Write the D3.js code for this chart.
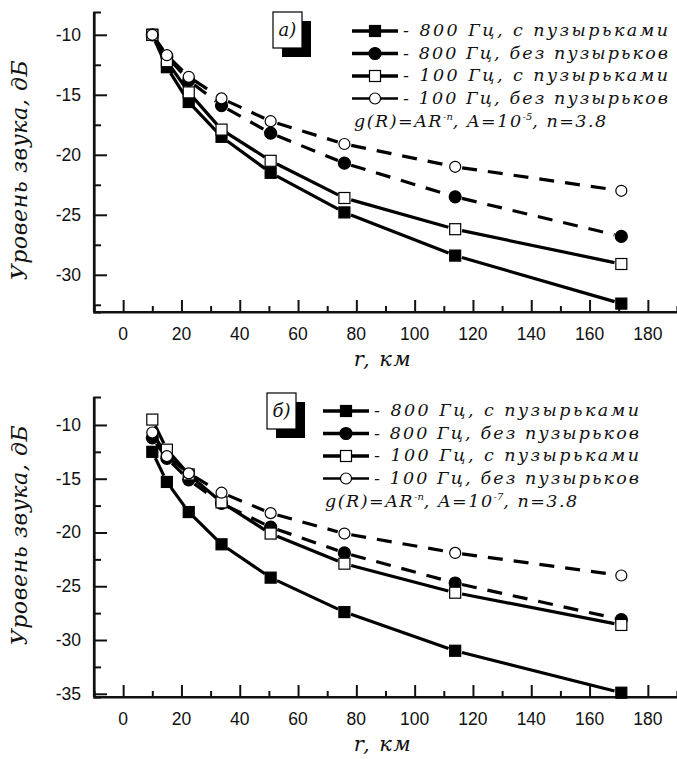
<!DOCTYPE html>
<html>
<head>
<meta charset="utf-8">
<script src="https://cdn.jsdelivr.net/npm/d3@7"></script>
<style>
  body { margin: 0; background: #fff; }
  svg { display: block; }
  .tick-label { font-family: "Liberation Sans", Arial, sans-serif; font-size: 17.5px; fill: #111; }
  .serif-it { font-family: "DejaVu Serif", "Liberation Serif", serif; font-style: italic; fill: #111; }
</style>
</head>
<body>
<svg id="chart" width="677" height="759"></svg>
<script>
// distances r, km (same for every series)
const distances = [10, 15, 22.5, 33.75, 50.6, 75.9, 113.9, 170.9];

const seriesNames = [
  "800 Гц, с пузырьками",
  "800 Гц, без пузырьков",
  "100 Гц, с пузырьками",
  "100 Гц, без пузырьков"
];

// panel a) A = 10^-5
const a800Bubbles = [-10, -12.7, -15.6, -18.5, -21.5, -24.8, -28.4, -32.4];
const a800NoBubbles = [-10, -11.8, -13.8, -15.9, -18.2, -20.7, -23.5, -26.8];
const a100Bubbles = [-10, -12.2, -14.8, -17.9, -20.5, -23.6, -26.2, -29.1];
const a100NoBubbles = [-10, -11.7, -13.5, -15.3, -17.2, -19.1, -21.0, -23.0];

// panel б) A = 10^-7
const b800Bubbles = [-12.5, -15.3, -18.1, -21.1, -24.2, -27.4, -31.0, -34.9];
const b800NoBubbles = [-11.2, -13.1, -15.1, -17.3, -19.5, -21.9, -24.7, -28.1];
const b100Bubbles = [-9.5, -12.3, -14.6, -17.2, -20.1, -22.9, -25.6, -28.6];
const b100NoBubbles = [-10.7, -12.9, -14.5, -16.3, -18.2, -20.1, -21.9, -24.0];

const xTicks = [0, 20, 40, 60, 80, 100, 120, 140, 160, 180];
const xMinorTicks = [10, 30, 50, 70, 90, 110, 130, 150, 170];
const yTicksA = [-10, -15, -20, -25, -30];
const yMinorA = [-12.5, -17.5, -22.5, -27.5, -32.5];
const yTicksB = [-10, -15, -20, -25, -30, -35];
const yMinorB = [-12.5, -17.5, -22.5, -27.5, -32.5];

const svg = d3.select("#chart");

// marker style per series: filled square, filled circle, open square, open circle
const styles = [
  { shape: "square", fill: "#000" },
  { shape: "circle", fill: "#000" },
  { shape: "square", fill: "#fff" },
  { shape: "circle", fill: "#fff" }
];

function drawMarker(g, shape, fill, cx, cy) {
  if (shape === "square") {
    g.append("rect")
      .attr("x", cx - 5.5).attr("y", cy - 5.5)
      .attr("width", 11).attr("height", 11)
      .attr("fill", fill).attr("stroke", "#000").attr("stroke-width", 1.2);
  } else {
    g.append("circle")
      .attr("cx", cx).attr("cy", cy).attr("r", fill === "#000" ? 6 : 5.5)
      .attr("fill", fill).attr("stroke", "#000").attr("stroke-width", 1.2);
  }
}

function drawPanel(p) {
  const x = d3.scaleLinear().domain([-10, 190]).range([94, 677]);
  const y = d3.scaleLinear().domain(p.yDomain).range(p.yRange);
  const g = svg.append("g");

  // axes: left + bottom, ticks pointing inward
  const xAxis = g.append("g")
    .attr("transform", `translate(0,${p.yRange[0]})`)
    .call(d3.axisBottom(x).tickValues(xTicks).tickSize(-12).tickFormat(""));
  xAxis.append("g").call(d3.axisBottom(x).tickValues(xMinorTicks).tickSize(-6).tickFormat(""));
  const yAxis = g.append("g")
    .attr("transform", `translate(94,0)`)
    .call(d3.axisLeft(y).tickValues(p.yTicks).tickSize(-13).tickFormat(""));
  yAxis.append("g").call(d3.axisLeft(y).tickValues(p.yMinor).tickSize(-7).tickFormat(""));
  g.selectAll(".domain").attr("stroke", "#111").attr("stroke-width", 2.2);
  g.selectAll(".tick line").attr("stroke", "#111").attr("stroke-width", 2);
  // bottom axis line reaches the right edge, y axis line stops at top
  xAxis.select(".domain").attr("d", `M94,0H677`);
  yAxis.select(".domain").attr("d", `M0,${p.yRange[1]}V${p.yRange[0]}`);

  // tick labels
  g.selectAll(".xl").data(xTicks).enter().append("text")
    .attr("class", "tick-label")
    .attr("x", d => x(d)).attr("y", p.yRange[0] + 28)
    .attr("text-anchor", "middle").text(d => d);
  g.selectAll(".yl").data(p.yTicks).enter().append("text")
    .attr("class", "tick-label")
    .attr("x", 81).attr("y", d => y(d) + 6)
    .attr("text-anchor", "end").text(d => d);

  // axis titles
  g.append("text").attr("class", "serif-it")
    .attr("transform", `translate(27,${p.yTitleY}) rotate(-90)`)
    .attr("text-anchor", "middle").attr("font-size", 22)
    .attr("letter-spacing", 0.6)
    .text("Уровень звука, дБ");
  g.append("text").attr("class", "serif-it")
    .attr("x", 383).attr("y", p.yRange[0] + 54)
    .attr("text-anchor", "middle").attr("font-size", 21)
    .attr("letter-spacing", 1.5)
    .text("r, км");

  // series: segments with a gap near each symbol
  const gap = 7;
  p.series.forEach((vals, i) => {
    const pts = vals.map((v, k) => [x(distances[k]), y(v)]);
    for (let k = 0; k < pts.length - 1; k++) {
      const [x0, y0] = pts[k], [x1, y1] = pts[k + 1];
      const len = Math.hypot(x1 - x0, y1 - y0);
      if (len <= 2 * gap) continue;
      const ux = (x1 - x0) / len, uy = (y1 - y0) / len;
      g.append("line")
        .attr("x1", x0 + ux * gap).attr("y1", y0 + uy * gap)
        .attr("x2", x1 - ux * gap).attr("y2", y1 - uy * gap)
        .attr("stroke", "#000").attr("stroke-width", 3.2)
        .attr("stroke-dasharray", p.dashes[i]);
    }
  });
  p.series.forEach((vals, i) => {
    const st = styles[i];
    vals.forEach((v, k) => drawMarker(g, st.shape, st.fill, x(distances[k]), y(v)));
  });

  // panel label with shadow
  const lb = p.label;
  g.append("rect").attr("x", lb.x + 9).attr("y", lb.y + 9)
    .attr("width", 29).attr("height", 36).attr("fill", "#000");
  g.append("rect").attr("x", lb.x).attr("y", lb.y)
    .attr("width", 29).attr("height", 36)
    .attr("fill", "#fff").attr("stroke", "#000").attr("stroke-width", 1.2);
  g.append("text").attr("class", "serif-it")
    .attr("x", lb.x + 14.5).attr("y", lb.y + 24)
    .attr("text-anchor", "middle").attr("font-size", 18)
    .text(lb.text);

  // legend
  const lg = p.legend;
  seriesNames.forEach((name, i) => {
    const ly = lg.y + i * lg.step;
    g.append("line")
      .attr("x1", lg.x).attr("x2", lg.x + 46)
      .attr("y1", ly).attr("y2", ly)
      .attr("stroke", "#000").attr("stroke-width", i === 3 ? 2.4 : 3.4);
    drawMarker(g, styles[i].shape, styles[i].fill, lg.x + 23, ly);
    g.append("text").attr("class", "serif-it")
      .attr("x", lg.x + 51).attr("y", ly + 5)
      .attr("font-size", 17.5)
      .attr("textLength", 265).attr("lengthAdjust", "spacing")
      .text("- " + name);
  });
  const fy = lg.y + 4 * lg.step + 1;
  const ft = g.append("text").attr("class", "serif-it")
    .attr("x", lg.x + 2).attr("y", fy + 5)
    .attr("font-size", 17.5).attr("letter-spacing", 1.5);
  ft.append("tspan").text("g(R)=AR");
  ft.append("tspan").attr("dy", -7).attr("font-size", 10).attr("letter-spacing", 0).text("-n");
  ft.append("tspan").attr("dy", 7).text(", A=10");
  ft.append("tspan").attr("dy", -7).attr("font-size", 10).attr("letter-spacing", 0).text(p.exponent);
  ft.append("tspan").attr("dy", 7).text(", n=3.8");
}

drawPanel({
  yDomain: [-33.1, -8.1], yRange: [312, 12],
  yTicks: yTicksA, yMinor: yMinorA, yTitleY: 170,
  series: [a800Bubbles, a800NoBubbles, a100Bubbles, a100NoBubbles],
  dashes: [null, "15,11", null, "15,11"],
  label: { x: 273, y: 12, text: "а)" },
  legend: { x: 352, y: 31, step: 22.5 },
  exponent: "-5"
});

drawPanel({
  yDomain: [-35.3, -7.4], yRange: [697, 397],
  yTicks: yTicksB, yMinor: yMinorB, yTitleY: 535,
  series: [b800Bubbles, b800NoBubbles, b100Bubbles, b100NoBubbles],
  dashes: [null, "15,11", null, "15,11"],
  label: { x: 267, y: 393, text: "б)" },
  legend: { x: 323, y: 411, step: 22.5 },
  exponent: "-7"
});
</script>
</body>
</html>
